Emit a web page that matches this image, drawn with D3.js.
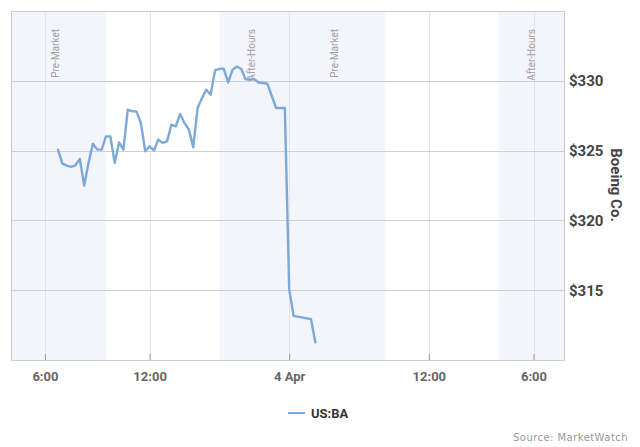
<!DOCTYPE html>
<html><head><meta charset="utf-8">
<script src="https://cdn.jsdelivr.net/npm/d3@7"></script>
<style>html,body{margin:0;padding:0;background:#fff;}svg{display:block;font-family:Roboto,"Noto Sans",sans-serif;}</style>
</head><body><svg id="c" width="640" height="447"></svg>
<script>
// ---- data ----
const times = [
 "2018-04-03 06:45","2018-04-03 07:00","2018-04-03 07:15","2018-04-03 07:30","2018-04-03 07:45",
 "2018-04-03 08:00","2018-04-03 08:15","2018-04-03 08:30","2018-04-03 08:45","2018-04-03 09:00",
 "2018-04-03 09:15","2018-04-03 09:30","2018-04-03 09:45","2018-04-03 10:00","2018-04-03 10:15",
 "2018-04-03 10:30","2018-04-03 10:45","2018-04-03 11:00","2018-04-03 11:15","2018-04-03 11:30",
 "2018-04-03 11:45","2018-04-03 12:00","2018-04-03 12:15","2018-04-03 12:30","2018-04-03 12:45",
 "2018-04-03 13:00","2018-04-03 13:15","2018-04-03 13:30","2018-04-03 13:45","2018-04-03 14:00",
 "2018-04-03 14:15","2018-04-03 14:30","2018-04-03 14:45","2018-04-03 15:00","2018-04-03 15:15",
 "2018-04-03 15:30","2018-04-03 15:45","2018-04-03 16:00","2018-04-03 16:15","2018-04-03 16:30",
 "2018-04-03 16:45","2018-04-03 17:00","2018-04-03 17:15","2018-04-03 17:30","2018-04-03 17:45",
 "2018-04-03 18:00","2018-04-03 18:15","2018-04-03 18:30","2018-04-03 18:45","2018-04-03 19:15",
 "2018-04-03 19:30","2018-04-03 19:45","2018-04-04 04:00","2018-04-04 04:15","2018-04-04 05:15",
 "2018-04-04 05:30"
];
const prices = [
 325.07,324.07,323.93,323.84,323.95,
 324.41,322.50,324.12,325.50,325.07,
 325.07,326.02,326.02,324.12,325.59,
 325.07,327.93,327.81,327.81,326.98,
 324.95,325.31,325.02,325.79,325.55,
 325.66,326.86,326.74,327.62,326.98,
 326.50,325.24,328.05,328.76,329.36,
 329.00,330.74,330.86,330.86,329.88,
 330.79,331.02,330.84,330.12,330.07,
 330.12,329.88,329.84,329.79,328.05,
 328.05,328.05,315.07,313.16,312.93,
 311.26
];
const seriesName = "US:BA";
const yTicks = [315, 320, 325, 330];
const yTickLabels = ["$315", "$320", "$325", "$330"];
const xTicks = ["2018-04-03 06:00","2018-04-03 12:00","2018-04-04 00:00","2018-04-04 12:00","2018-04-04 18:00"];
const xTickLabels = ["6:00","12:00","4 Apr","12:00","6:00"];
const bandStarts = ["2018-04-03 04:00","2018-04-03 16:00","2018-04-04 04:00","2018-04-04 16:00"];
const bandEnds   = ["2018-04-03 09:30","2018-04-03 20:00","2018-04-04 09:30","2018-04-04 20:00"];
const bandLabels = ["Pre-Market","After-Hours","Pre-Market","After-Hours"];
const yTitle = "Boeing Co.";
const sourceText = "Source: MarketWatch";

// ---- layout ----
const parse = d3.timeParse("%Y-%m-%d %H:%M");
const svg = d3.select("#c");
const m = {left: 11, top: 11};
const W = 554, H = 349;
const k = 17.45; // px per session hour
const x0 = -1;   // position of day-1 04:00
const x = d3.scaleTime()
  .domain([parse("2018-04-03 04:00"), parse("2018-04-03 20:00"), parse("2018-04-04 04:00"), parse("2018-04-04 20:00")])
  .range([x0, x0 + 16 * k, x0 + 16 * k, x0 + 32 * k]);
const y = d3.scaleLinear().domain([310, 335]).range([H, 0]);

svg.append("defs").append("clipPath").attr("id", "clip")
  .append("rect").attr("width", W).attr("height", H);

const g = svg.append("g").attr("transform", `translate(${m.left},${m.top})`);
const plot = g.append("g").attr("clip-path", "url(#clip)");

// bands
const bands = bandStarts.map((s, i) => ({s: parse(s), e: parse(bandEnds[i]), label: bandLabels[i]}));
plot.selectAll("rect.band").data(bands).join("rect").attr("class", "band")
  .attr("x", d => x(d.s)).attr("y", 0)
  .attr("width", d => x(d.e) - x(d.s)).attr("height", H)
  .attr("fill", "#f4f4fd");

// vertical grid
const xt = xTicks.map(parse);
plot.selectAll("line.vg").data(xt).join("line").attr("class", "vg")
  .attr("x1", d => Math.round(x(d)) + 0.5).attr("x2", d => Math.round(x(d)) + 0.5)
  .attr("y1", 0).attr("y2", H).attr("stroke", "#e4e4e4").attr("stroke-width", 1);

// horizontal grid
plot.selectAll("line.hg").data(yTicks).join("line").attr("class", "hg")
  .attr("x1", 0).attr("x2", W)
  .attr("y1", d => Math.round(y(d)) + 0.5).attr("y2", d => Math.round(y(d)) + 0.5)
  .attr("stroke", "#cfcfcf").attr("stroke-width", 1);

// band labels
plot.selectAll("text.bl").data(bands).join("text").attr("class", "bl")
  .attr("transform", d => `translate(${(x(d.s) + x(d.e)) / 2 + 1},18) rotate(-90)`)
  .attr("text-anchor", "end")
  .attr("font-size", 10).attr("fill", "#a0a0a0")
  .text(d => d.label);

// line
const data = times.map((t, i) => ({t: parse(t), v: prices[i]}));
plot.append("path").datum(data)
  .attr("fill", "none").attr("stroke", "#7caad8").attr("stroke-width", 2.4)
  .attr("stroke-linejoin", "round").attr("stroke-linecap", "round")
  .attr("d", d3.line().x(d => x(d.t)).y(d => y(d.v)));

// border
g.append("rect").attr("x", 0.5).attr("y", 0.5).attr("width", W - 1).attr("height", H)
  .attr("fill", "none").attr("stroke", "#cccccc");

// x axis
const xAxis = d3.axisBottom(x).tickValues(xt).tickSize(-6).tickPadding(12)
  .tickFormat((d, i) => xTickLabels[i]);
const xa = g.append("g").attr("transform", `translate(0,${H})`).call(xAxis);
xa.select(".domain").remove();
xa.selectAll(".tick line").attr("stroke", "#999");
xa.selectAll(".tick text").attr("font-size", 13).attr("font-weight", "bold")
  .attr("fill", "#666").attr("font-family", "Roboto, sans-serif");

// y axis (right)
const yAxis = d3.axisRight(y).tickValues(yTicks).tickSize(0).tickPadding(4)
  .tickFormat((d, i) => yTickLabels[i]);
const ya = g.append("g").attr("transform", `translate(${W},0)`).call(yAxis);
ya.select(".domain").remove();
ya.selectAll(".tick text").attr("font-size", 15).attr("font-weight", "bold")
  .attr("fill", "#444").attr("font-family", "Roboto, sans-serif");

// y title
svg.append("text").attr("transform", "translate(611,185) rotate(90)")
  .attr("text-anchor", "middle").attr("font-size", 15).attr("font-weight", "bold")
  .attr("fill", "#444").text(yTitle);

// legend
svg.append("line").attr("x1", 288).attr("x2", 305).attr("y1", 413).attr("y2", 413)
  .attr("stroke", "#7caad8").attr("stroke-width", 2);
svg.append("text").attr("x", 311).attr("y", 418).attr("font-size", 13).attr("font-weight", "bold")
  .attr("fill", "#333").text(seriesName);

// source
svg.append("text").attr("x", 628).attr("y", 441).attr("text-anchor", "end")
  .attr("font-family", "DejaVu Sans, sans-serif").attr("font-size", 10)
  .attr("letter-spacing", 0.45)
  .attr("fill", "#999").text(sourceText);
</script></body></html>
